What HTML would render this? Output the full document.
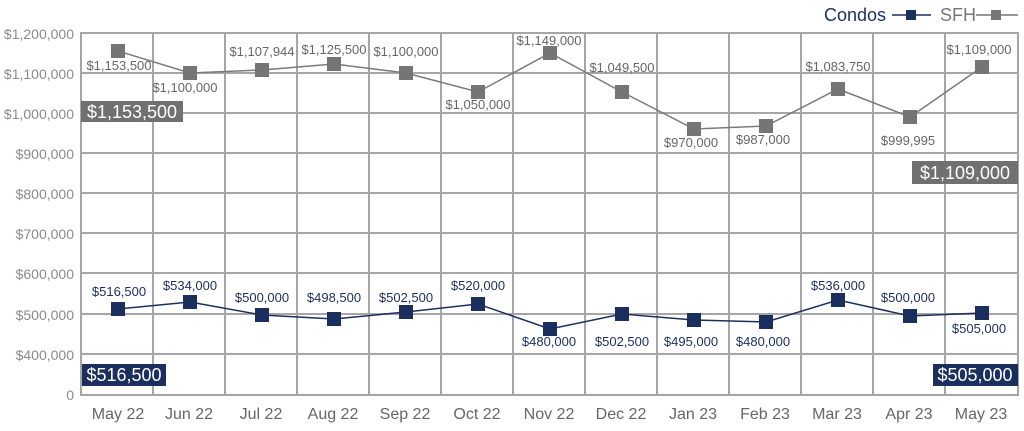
<!DOCTYPE html><html><head><meta charset="utf-8"><style>body{margin:0;background:#fff}svg{display:block;font-family:"Liberation Sans",sans-serif}</style></head><body>
<svg width="1024" height="431" xmlns="http://www.w3.org/2000/svg">
<g stroke="#a6a6a6" stroke-width="2" fill="none">
<rect x="81" y="33" width="937" height="362"/>
<line x1="81" y1="73" x2="1018" y2="73"/><line x1="81" y1="113" x2="1018" y2="113"/><line x1="81" y1="153" x2="1018" y2="153"/><line x1="81" y1="193" x2="1018" y2="193"/><line x1="81" y1="233" x2="1018" y2="233"/><line x1="81" y1="273" x2="1018" y2="273"/><line x1="81" y1="314" x2="1018" y2="314"/><line x1="81" y1="354" x2="1018" y2="354"/>
<line x1="153" y1="33" x2="153" y2="395"/><line x1="225" y1="33" x2="225" y2="395"/><line x1="297" y1="33" x2="297" y2="395"/><line x1="369" y1="33" x2="369" y2="395"/><line x1="441" y1="33" x2="441" y2="395"/><line x1="513" y1="33" x2="513" y2="395"/><line x1="585" y1="33" x2="585" y2="395"/><line x1="657" y1="33" x2="657" y2="395"/><line x1="729" y1="33" x2="729" y2="395"/><line x1="801" y1="33" x2="801" y2="395"/><line x1="873" y1="33" x2="873" y2="395"/><line x1="945" y1="33" x2="945" y2="395"/>
</g>
<g fill="#8a8a8a" font-size="14" text-anchor="end">
<text x="74" y="39">$1,200,000</text><text x="74" y="79">$1,100,000</text><text x="74" y="119">$1,000,000</text><text x="74" y="159">$900,000</text><text x="74" y="199">$800,000</text><text x="74" y="239">$700,000</text><text x="74" y="279">$600,000</text><text x="74" y="320">$500,000</text><text x="74" y="360">$400,000</text><text x="74" y="400">0</text>
</g>
<g fill="#666" font-size="16" text-anchor="middle">
<text x="118" y="419">May 22</text><text x="189" y="419">Jun 22</text><text x="261" y="419">Jul 22</text><text x="333" y="419">Aug 22</text><text x="405" y="419">Sep 22</text><text x="477" y="419">Oct 22</text><text x="549" y="419">Nov 22</text><text x="621" y="419">Dec 22</text><text x="693" y="419">Jan 23</text><text x="765" y="419">Feb 23</text><text x="837" y="419">Mar 23</text><text x="909" y="419">Apr 23</text><text x="981" y="419">May 23</text>
</g>
<polyline fill="none" stroke="#7a7a7a" stroke-width="1.5" points="118,51 190,73 262,70 334,64 406,73 478,92 550,53 622,92 694,129 766,126 838,89 910,117 982,67"/>
<g fill="#757575">
<rect x="111" y="44" width="14" height="14"/><rect x="183" y="66" width="14" height="14"/><rect x="255" y="63" width="14" height="14"/><rect x="327" y="57" width="14" height="14"/><rect x="399" y="66" width="14" height="14"/><rect x="471" y="85" width="14" height="14"/><rect x="543" y="46" width="14" height="14"/><rect x="615" y="85" width="14" height="14"/><rect x="687" y="122" width="14" height="14"/><rect x="759" y="119" width="14" height="14"/><rect x="831" y="82" width="14" height="14"/><rect x="903" y="110" width="14" height="14"/><rect x="975" y="60" width="14" height="14"/>
</g>
<polyline fill="none" stroke="#1b2f5e" stroke-width="1.5" points="118,309 190,302 262,315 334,319 406,312 478,304 550,329 622,314 694,320 766,322 838,300 910,316 982,313"/>
<g fill="#1b2f5e">
<rect x="111" y="302" width="14" height="14"/><rect x="183" y="295" width="14" height="14"/><rect x="255" y="308" width="14" height="14"/><rect x="327" y="312" width="14" height="14"/><rect x="399" y="305" width="14" height="14"/><rect x="471" y="297" width="14" height="14"/><rect x="543" y="322" width="14" height="14"/><rect x="615" y="307" width="14" height="14"/><rect x="687" y="313" width="14" height="14"/><rect x="759" y="315" width="14" height="14"/><rect x="831" y="293" width="14" height="14"/><rect x="903" y="309" width="14" height="14"/><rect x="975" y="306" width="14" height="14"/>
</g>
<g fill="#666" font-size="13" text-anchor="middle">
<text x="119" y="70">$1,153,500</text><text x="185" y="92">$1,100,000</text><text x="262" y="56">$1,107,944</text><text x="334" y="54">$1,125,500</text><text x="406" y="56">$1,100,000</text><text x="478" y="109">$1,050,000</text><text x="549" y="45">$1,149,000</text><text x="622" y="72">$1,049,500</text><text x="691" y="147">$970,000</text><text x="763" y="144">$987,000</text><text x="838" y="71">$1,083,750</text><text x="908" y="145">$999,995</text><text x="979" y="54">$1,109,000</text>
</g>
<g fill="#1b2f5e" font-size="13" text-anchor="middle">
<text x="119" y="296">$516,500</text><text x="190" y="290">$534,000</text><text x="262" y="302">$500,000</text><text x="334" y="302">$498,500</text><text x="406" y="302">$502,500</text><text x="478" y="290">$520,000</text><text x="549" y="346">$480,000</text><text x="622" y="346">$502,500</text><text x="691" y="346">$495,000</text><text x="763" y="346">$480,000</text><text x="838" y="290">$536,000</text><text x="908" y="302">$500,000</text><text x="979" y="333">$505,000</text>
</g>
<rect x="81" y="101" width="102" height="21" fill="#707070"/><text x="132" y="118" fill="#fff" font-size="18" text-anchor="middle">$1,153,500</text>
<rect x="912" y="161" width="106" height="23" fill="#707070"/><text x="965" y="179" fill="#fff" font-size="18" text-anchor="middle">$1,109,000</text>
<rect x="82" y="364" width="84" height="22" fill="#1b2f5e"/><text x="124" y="381" fill="#fff" font-size="18" text-anchor="middle">$516,500</text>
<rect x="933" y="364" width="85" height="22" fill="#1b2f5e"/><text x="975" y="381" fill="#fff" font-size="18" text-anchor="middle">$505,000</text>
<text x="824" y="21" fill="#1b2f5e" font-size="18">Condos</text>
<line x1="892" y1="15" x2="931" y2="15" stroke="#1b2f5e" stroke-width="1.5"/><rect x="906" y="10" width="10" height="10" fill="#1b2f5e"/>
<text x="940" y="21" fill="#777" font-size="18">SFH</text>
<line x1="976" y1="15" x2="1018" y2="15" stroke="#777" stroke-width="1.5"/><rect x="991" y="10" width="10" height="10" fill="#777"/>
</svg></body></html>
